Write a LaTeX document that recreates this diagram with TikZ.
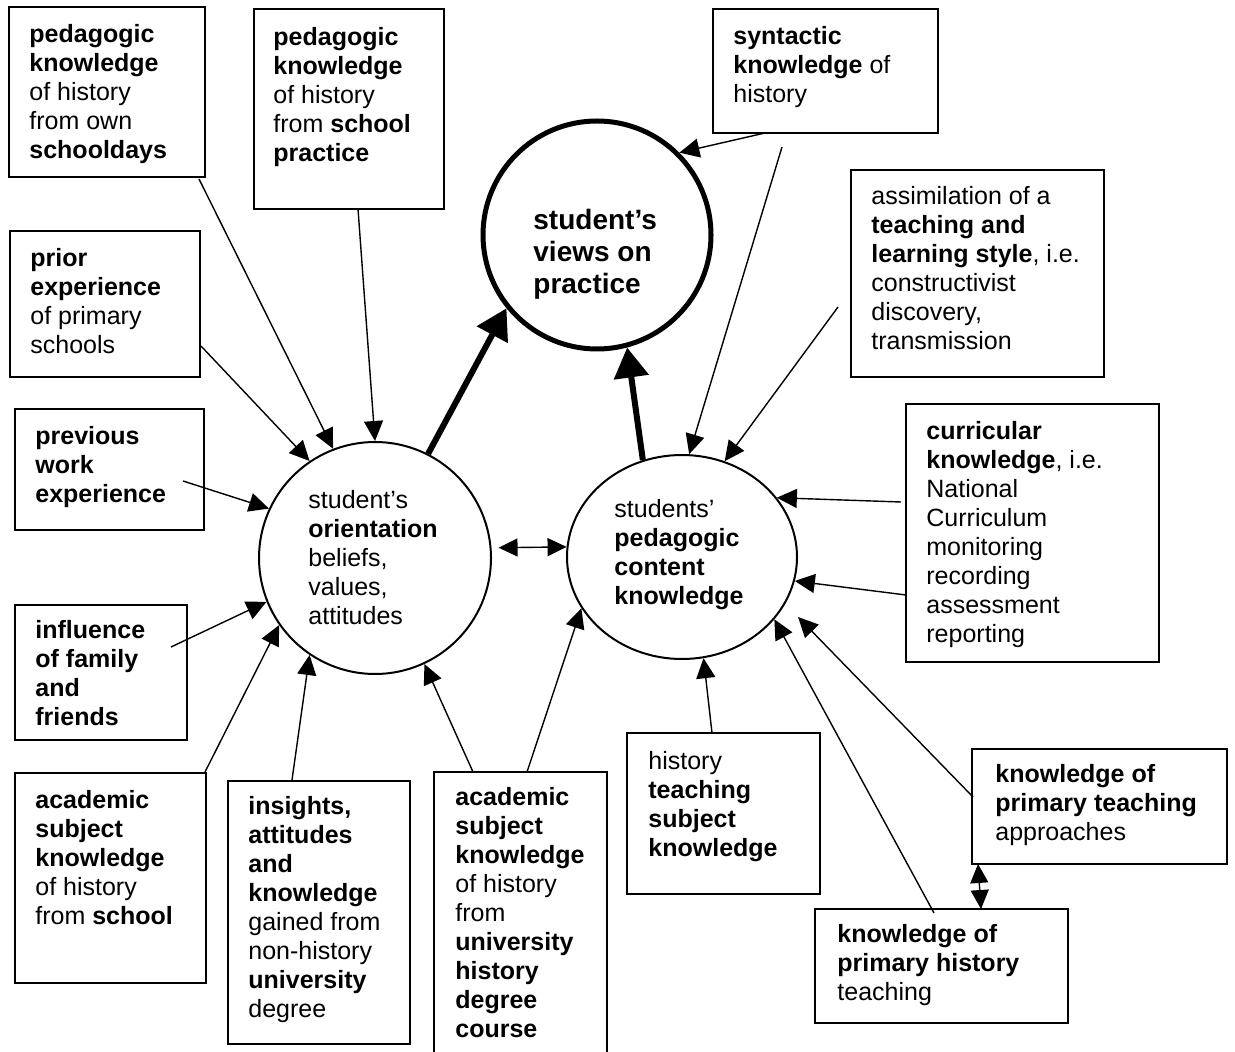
\documentclass[tikz,border=0pt]{standalone}
\usepackage{fontspec}
\setmainfont{Liberation Sans}
\usetikzlibrary{arrows.meta,shapes.geometric,fit}

\tikzset{
  box/.style={draw, line width=0.9pt, inner sep=0pt},
  txt/.style={anchor=north west, inner sep=0pt, align=left,
              font=\fontsize{12.5pt}{14.5pt}\selectfont},
  bigtxt/.style={anchor=north west, inner sep=0pt, align=left,
              font=\fontsize{14pt}{16pt}\selectfont\bfseries},
  conn/.style={line width=0.7pt, -{Triangle[length=10pt,width=9.5pt]}},
  dconn/.style={line width=0.7pt, {Triangle[length=9.5pt,width=9pt]}-{Triangle[length=9.5pt,width=9pt]}},
  bold arrow/.style={line width=3pt, -{Triangle[length=15pt,width=17pt]}},
}

% rectangle given by two corners (pixel grid, y downwards)
\newcommand{\mkbox}[5]{%
  \path (#2,#3) coordinate (#1-nw) (#4,#5) coordinate (#1-se);
  \node[box, fit=(#1-nw)(#1-se)] (#1) {};}

\begin{document}
\begin{tikzpicture}[x=0.5pt,y=-0.5pt]
\useasboundingbox[fill=white] (0,0) rectangle (1235,1052);

% ---- the three central circles
\node[draw, circle, line width=2.5pt, minimum size=114pt, inner sep=0pt] (views) at (597,235) {};
\node[draw, circle, line width=1pt, minimum size=116pt, inner sep=0pt] (orient) at (375,558) {};
\node[draw, ellipse, line width=1pt, minimum width=115pt, minimum height=102pt, inner sep=0pt] (pck) at (682,557) {};

\node[bigtxt] (tviews) at (533,209) {student’s\\views on\\practice};
\node[txt] (torient) at (308,490) {student’s\\\textbf{orientation}\\beliefs,\\values,\\attitudes};
\node[txt] (tpck) at (614,499) {students’\\\textbf{pedagogic}\\\textbf{content}\\\textbf{knowledge}};

% ---- influence boxes
\mkbox{own}{9}{7}{205}{177}
\node[txt] (town) at (29,24) {\textbf{pedagogic}\\\textbf{knowledge}\\of history\\from own\\\textbf{schooldays}};

\mkbox{spr}{254}{9}{444}{209}
\node[txt] (tspr) at (273,27) {\textbf{pedagogic}\\\textbf{knowledge}\\of history\\from \textbf{school}\\\textbf{practice}};

\mkbox{syn}{713}{9}{938}{133}
\node[txt] (tsyn) at (733,26) {\textbf{syntactic}\\\textbf{knowledge} of\\history};

\mkbox{sty}{851}{170}{1104}{377}
\node[txt] (tsty) at (871,186) {assimilation of a\\\textbf{teaching and}\\\textbf{learning style}, i.e.\\constructivist\\discovery,\\transmission};

\mkbox{pri}{10}{231}{200}{377}
\node[txt] (tpri) at (30,248) {\textbf{prior}\\\textbf{experience}\\of primary\\schools};

\mkbox{work}{15}{409}{204}{530}
\node[txt] (twork) at (35,426) {\textbf{previous}\\\textbf{work}\\\textbf{experience}};

\mkbox{fam}{15}{605}{187}{740}
\node[txt] (tfam) at (35,620) {\textbf{influence}\\\textbf{of family}\\\textbf{and}\\\textbf{friends}};

\mkbox{acs}{15}{773}{206}{983}
\node[txt] (tacs) at (35,790) {\textbf{academic}\\\textbf{subject}\\\textbf{knowledge}\\of history\\from \textbf{school}};

\mkbox{ins}{228}{781}{410}{1044}
\node[txt] (tins) at (248,796) {\textbf{insights,}\\\textbf{attitudes}\\\textbf{and}\\\textbf{knowledge}\\gained from\\non-history\\\textbf{university}\\degree};

\mkbox{acu}{434}{772}{607}{1070}
\node[txt] (tacu) at (455,787) {\textbf{academic}\\\textbf{subject}\\\textbf{knowledge}\\of history\\from\\\textbf{university}\\\textbf{history}\\\textbf{degree}\\\textbf{course}};

\mkbox{hts}{627}{733}{820}{894}
\node[txt] (thts) at (648,751) {history\\\textbf{teaching}\\\textbf{subject}\\\textbf{knowledge}};

\mkbox{cur}{906}{404}{1159}{662}
\node[txt] (tcur) at (926,421) {\textbf{curricular}\\\textbf{knowledge}, i.e.\\National\\Curriculum\\monitoring\\recording\\assessment\\reporting};

\mkbox{kpt}{972}{749}{1227}{864}
\node[txt] (tkpt) at (995,764) {\textbf{knowledge of}\\\textbf{primary teaching}\\approaches};

\mkbox{kph}{815}{909}{1068}{1023}
\node[txt] (tkph) at (837,924) {\textbf{knowledge of}\\\textbf{primary history}\\teaching};

% ---- connector start points
\coordinate (s-own) at (199,179);
\coordinate (s-spr) at (358,209);
\coordinate (s-pri) at (201,346);
\coordinate (s-work) at (183,481);
\coordinate (s-fam) at (171,647);
\coordinate (s-acs) at (205,772);
\coordinate (s-ins) at (292,780);
\coordinate (s-acu1) at (473,772);
\coordinate (s-acu2) at (527,772);
\coordinate (s-hts) at (712,733);
\coordinate (s-kph) at (934,913);
\coordinate (s-kpt) at (973,797);
\coordinate (e-kpt) at (798,617);
\coordinate (s-cur1) at (901,502);
\coordinate (s-cur2) at (906,595);
\coordinate (s-sty) at (838,307);
\coordinate (s-syn1) at (765,133);
\coordinate (s-syn2) at (782,147);
\coordinate (d-top) at (978,864);
\coordinate (d-bot) at (981,909);

% ---- into the orientation circle
\draw[conn] (s-own) -- (orient.111);
\draw[conn] (s-spr) -- (orient.90.5);
\draw[conn] (s-pri) -- (orient.124);
\draw[conn] (s-work) -- (orient.155);
\draw[conn] (s-fam) -- (orient.202);
\draw[conn] (s-acs) -- (orient.215);
\draw[conn] (s-ins) -- (orient.236);
\draw[conn] (s-acu1) -- (orient.295);

% ---- into the pedagogic content knowledge ellipse
\draw[conn] (s-acu2) -- (pck.207.5);
\draw[conn] (s-hts) -- (pck.282);
\draw[conn] (s-kph) -- (pck.326);
\draw[conn] (s-kpt) -- (e-kpt);
\draw[conn] (s-cur1) -- (pck.32.5);
\draw[conn] (s-cur2) -- (pck.348.7);
\draw[conn] (s-sty) -- (pck.66);
\draw[conn] (s-syn2) -- (pck.86);

% ---- syntactic knowledge into views
\draw[conn] (s-syn1) -- (views.45.7);

% ---- two-way links
\draw[dconn, shorten <=3.5pt] (orient.5) -- (pck.175);
\draw[dconn] (d-top) -- (d-bot);

% ---- bold arrows to views on practice
\draw[bold arrow] (orient.63) -- (views.219);
\draw[bold arrow] (pck.112) -- (views.285.5);

\end{tikzpicture}
\end{document}
